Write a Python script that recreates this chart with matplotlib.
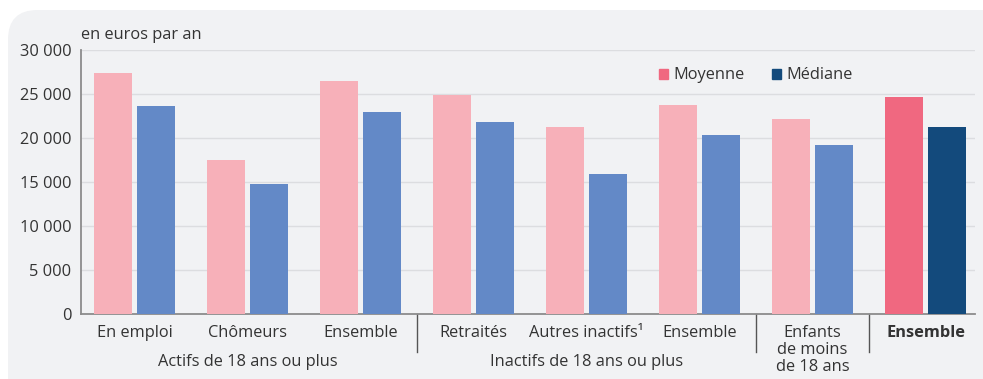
import numpy as np
import matplotlib.pyplot as plt
from matplotlib.patches import FancyBboxPatch, Patch

plt.rcParams['font.family'] = ['Open Sans', 'DejaVu Sans']

categories = ['En emploi', 'Chômeurs', 'Ensemble', 'Retraités', 'Autres inactifs¹',
              'Ensemble', 'Enfants\nde moins\nde 18 ans', 'Ensemble']
moyenne = [27400, 17500, 26500, 24900, 21250, 23750, 22150, 24650]
mediane = [23600, 14800, 22950, 21800, 15900, 20350, 19200, 21250]
groups = ['Actifs de 18 ans ou plus', 'Inactifs de 18 ans ou plus']
yticks = [0, 5000, 10000, 15000, 20000, 25000, 30000]

c_moy = '#f7b0b9'
c_med = '#6389c7'
c_moy_tot = '#f06880'
c_med_tot = '#134a7c'
txt = '#333333'
bg = '#f1f2f4'
fs = 11.8

fig = plt.figure(figsize=(9.83, 3.79), dpi=100)
fig.patch.set_facecolor('white')
box = FancyBboxPatch((8 / 983, -0.1), 1.2, (379 - 10) / 379 + 0.1,
                     boxstyle='round,pad=0,rounding_size=0.03',
                     transform=fig.transFigure, facecolor=bg, edgecolor='none',
                     mutation_aspect=983 / 379, zorder=-10)
fig.patches.append(box)

ax = fig.add_axes([81 / 983, (379 - 314) / 379, (975 - 81) / 983, (314 - 50) / 379])
ax.patch.set_alpha(0)

x = np.arange(len(categories))
w = 0.336
off = 0.19
cols_moy = [c_moy] * 7 + [c_moy_tot]
cols_med = [c_med] * 7 + [c_med_tot]
ax.bar(x - off, moyenne, w, color=cols_moy, zorder=3)
ax.bar(x + off, mediane, w, color=cols_med, zorder=3)

ax.set_xlim(-0.473, 7.438)
ax.set_ylim(0, 30000)
ax.set_yticks(yticks)
ax.set_yticklabels([f'{v:,}'.replace(',', ' ') for v in yticks], fontsize=fs, color=txt)
ax.yaxis.grid(True, color='#dcdde0', linewidth=1, zorder=0)
ax.tick_params(axis='y', length=0, pad=7)
ax.set_xticks([])
for s in ['top', 'right']:
    ax.spines[s].set_visible(False)
ax.spines['left'].set_color('#8c8c8c')
ax.spines['bottom'].set_color('#8c8c8c')
ax.spines['left'].set_linewidth(1.3)
ax.spines['bottom'].set_linewidth(1.3)

ax.text(0.0, 1.025, 'en euros par an', transform=ax.transAxes, fontsize=fs,
        color=txt, ha='left', va='bottom')

trans = ax.get_xaxis_transform()
for i, lab in enumerate(categories):
    if i == 6:
        ax.text(i, -0.043, lab, transform=trans, ha='center', va='top',
                fontsize=fs, color=txt, linespacing=1.07)
    else:
        ax.text(i, -0.043, lab, transform=trans, ha='center', va='top',
                fontsize=fs, color=txt,
                fontweight='bold' if i == 7 else 'normal')
ax.text(1, -0.15, groups[0], transform=trans, ha='center', va='top', fontsize=fs, color=txt)
ax.text(4, -0.15, groups[1], transform=trans, ha='center', va='top', fontsize=fs, color=txt)

for sep in [2.5, 5.5, 6.5]:
    ax.plot([sep, sep], [0, -0.145], transform=trans, color='#555555',
            linewidth=1, clip_on=False)

handles = [Patch(color=c_moy_tot, label='Moyenne'), Patch(color=c_med_tot, label='Médiane')]
leg = ax.legend(handles=handles, loc='upper left', bbox_to_anchor=(0.63, 0.99), ncol=2,
                frameon=False, fontsize=fs, handlelength=0.55, handleheight=0.55,
                handletextpad=0.3, columnspacing=1.7)
for t in leg.get_texts():
    t.set_color(txt)

fig.savefig('out.png', dpi=100, facecolor='white')
